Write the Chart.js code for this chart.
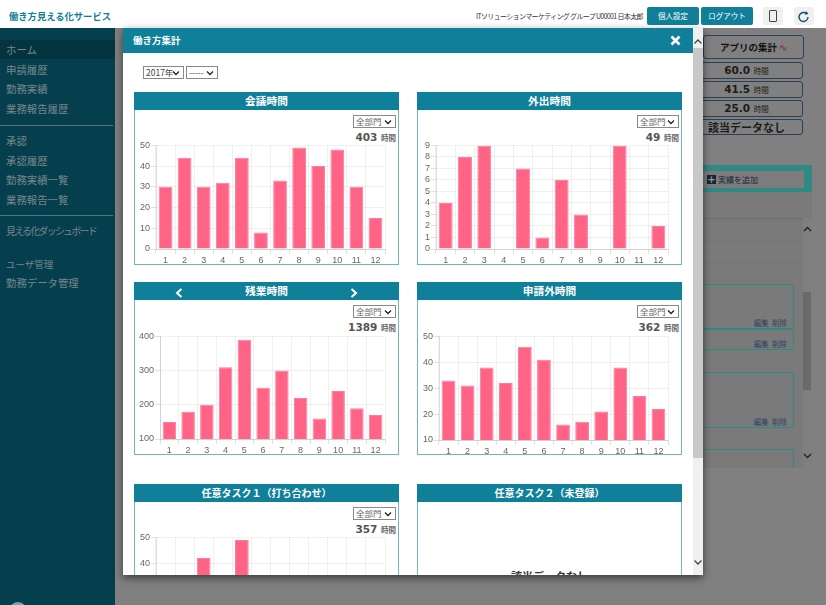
<!DOCTYPE html>
<html lang="ja">
<head>
<meta charset="utf-8">
<title>働き方集計</title>
<script src="https://cdn.jsdelivr.net/npm/chart.js@4"></script>
<style>
  html, body { margin: 0; padding: 0; width: 826px; height: 605px; overflow: hidden; background: #808080; font-family: "Noto Sans CJK JP", sans-serif; }
  .a { position: absolute; white-space: nowrap; }
  .navi { position: absolute; left: 6px; font-size: 10.4px; line-height: 14px; color: #76868b; white-space: nowrap; }
  .btn { position: absolute; top: 7px; width: 52px; height: 18px; background: #107f99; border-radius: 2px; color: #fff; font-size: 7.5px; line-height: 18px; text-align: center; }
  .ibtn { position: absolute; top: 7px; width: 20px; height: 18px; background: #f0f0f0; border-radius: 2px; }
  .rowbox { position: absolute; left: 690px; width: 113px; border: 1px solid #2b3f55; border-radius: 3px; box-sizing: border-box; color: #1c1c1c; text-align: center; font: bold 10.500px "DejaVu Sans", sans-serif; }
  .rowbox small { font: 7.500px "Noto Sans CJK JP", sans-serif; }
  .entry { position: absolute; left: 690px; width: 104px; border: 1px solid #2f8a84; border-radius: 2px; box-sizing: border-box; }
  .entry span { position: absolute; right: 6px; bottom: 0; font-size: 7.5px; line-height: 11px; color: #2c4560; }
  #modal { position: absolute; left: 123px; top: 28px; width: 580px; height: 547px; background: #fff; overflow: hidden; box-shadow: 0 3px 8px rgba(0,0,0,.55); }
  #inner { position: absolute; left: -123px; top: -28px; width: 826px; height: 800px; }
  #mhead { position: absolute; left: 123px; top: 28px; width: 570px; height: 25px; background: #107f99; color: #fff; font-size: 9.5px; font-weight: bold; line-height: 25px; text-indent: 10px; }
  .panel { position: absolute; width: 265px; height: 173px; border: 1px solid #6fb6c4; box-sizing: border-box; background: #fff; }
  .phead { position: absolute; left: -1px; top: -1px; width: 265px; height: 18px; background: #107f99; color: #fff; font-size: 10.7px; font-weight: bold; line-height: 18px; text-align: center; white-space: nowrap; }
  select { position: absolute; appearance: none; -webkit-appearance: none; font: 8.5px/11px "Noto Sans CJK JP", sans-serif; height: 13px; padding: 0 0 0 2px; border: 1px solid #888; box-sizing: border-box; color: #666; border-radius: 0; background: #fff url("data:image/svg+xml,%3Csvg xmlns='http://www.w3.org/2000/svg' width='8' height='6'%3E%3Cpath d='M1 1.500l3 3 3-3' fill='none' stroke='%23222' stroke-width='1.300'/%3E%3C/svg%3E") no-repeat right 3px center; }
  .total { position: absolute; width: 262px; text-align: right; color: #555; font: bold 10.5px "DejaVu Sans", sans-serif; line-height: 14px; }
  .total small { font: bold 7.5px "Noto Sans CJK JP", sans-serif; color: #666; }
  canvas { position: absolute; }
</style>
</head>
<body>
<!-- top bar -->
<div class="a" style="left:0;top:0;width:826px;height:28px;background:#fff"></div>
<div class="a" style="left:9px;top:8px;font-size:9.3px;font-weight:bold;line-height:16px;color:#107f99">働き方見える化サービス</div>
<div class="a" style="left:476px;top:10px;font-size:7px;letter-spacing:-0.65px;line-height:12px;color:#333">ITソリューションマーケティング グループ U00001 日本太郎</div>
<div class="btn" style="left:647px">個人設定</div>
<div class="btn" style="left:701px">ログアウト</div>
<div class="ibtn" style="left:763px"><div class="a" style="left:6px;top:3px;width:6px;height:10px;border:1px solid #444;border-radius:1px"></div></div>
<div class="ibtn" style="left:794px">
  <svg width="20" height="18" viewBox="0 0 20 18"><path d="M14 9a4.5 4.5 0 1 1-1.5-3.4" fill="none" stroke="#0d5566" stroke-width="1.4"/><path d="M12 3l2.5 3-3.4.8z" fill="#0d5566"/></svg>
</div>

<!-- sidebar -->
<div class="a" style="left:0;top:28px;width:115px;height:577px;background:#053f4d"></div>
<div class="a" style="left:0;top:40px;width:115px;height:19px;background:#04343f"></div>
<div class="navi" style="top:43px">ホーム</div>
<div class="navi" style="top:63px">申請履歴</div>
<div class="navi" style="top:82px">勤務実績</div>
<div class="navi" style="top:102px">業務報告履歴</div>
<div class="a" style="left:0;top:125px;width:113px;height:1px;background:#55747c"></div>
<div class="navi" style="top:134px">承認</div>
<div class="navi" style="top:154px">承認履歴</div>
<div class="navi" style="top:173px">勤務実績一覧</div>
<div class="navi" style="top:193px">業務報告一覧</div>
<div class="a" style="left:0;top:215px;width:113px;height:1px;background:#55747c"></div>
<div class="navi" style="top:224px;font-size:10px;letter-spacing:-1.8px">見える化ダッシュボード</div>
<div class="navi" style="top:257px;font-size:9.500px">ユーザ管理</div>
<div class="navi" style="top:276px">勤務データ管理</div>
<div class="a" style="left:9px;top:602px;width:18px;height:18px;border-radius:50%;background:#8aa0a6"></div>

<!-- dimmed page behind the dialog -->
<div class="a" style="left:703px;top:35px;width:101px;height:24px;border:1px solid #2b3f55;border-radius:3px;box-sizing:border-box;font-size:9.5px;font-weight:bold;line-height:22px;text-align:center;color:#111">アプリの集計 <span style="color:#8a3a4a">∿</span></div>
<div class="rowbox" style="top:62px;height:17px;line-height:15px">60.0 <small>時間</small></div>
<div class="rowbox" style="top:81px;height:17px;line-height:15px">41.5 <small>時間</small></div>
<div class="rowbox" style="top:100px;height:17px;line-height:15px">25.0 <small>時間</small></div>
<div class="rowbox" style="top:119px;height:16px;line-height:14px;font-size:11px;font-family:'Noto Sans CJK JP'">該当データなし</div>
<div class="a" style="left:690px;top:165px;width:122px;height:27px;background:#2f8a84"></div>
<div class="a" style="left:690px;top:171px;width:114px;height:17px;background:#7c7c7c"></div>
<div class="a" style="left:707px;top:175px;width:9px;height:9px;background:#12263a;color:#999;font:bold 10px/9px 'DejaVu Sans';text-align:center">+</div>
<div class="a" style="left:718px;top:174px;font-size:8px;line-height:12px;color:#15263a">実績を追加</div>
<div class="a" style="left:690px;top:192px;width:122px;height:276px;background:#7a7a7a"></div>
<div class="a" style="left:690px;top:218px;width:122px;height:1px;background:#6e6e6e"></div>
<div class="a" style="left:690px;top:241px;width:113px;height:1px;background:#757575"></div>
<div class="a" style="left:690px;top:262px;width:113px;height:1px;background:#757575"></div>
<div class="a" style="left:803px;top:218px;width:9px;height:250px;background:#7f7f7f"></div>
<div class="a" style="left:803px;top:292px;width:8px;height:98px;background:#6a6a6a"></div>
<svg class="a" style="left:803px;top:226px" width="9" height="6"><path d="M1 5l3.5-3.5L8 5" fill="none" stroke="#222" stroke-width="1.3"/></svg>
<svg class="a" style="left:803px;top:453px" width="9" height="6"><path d="M1 1l3.5 3.5L8 1" fill="none" stroke="#222" stroke-width="1.3"/></svg>
<div class="entry" style="top:284px;height:45px"><span>編集&nbsp;&nbsp;削除</span></div>
<div class="entry" style="top:329px;height:21px"><span>編集&nbsp;&nbsp;削除</span></div>
<div class="entry" style="top:372px;height:56px"><span>編集&nbsp;&nbsp;削除</span></div>
<div class="entry" style="top:449px;height:20px;border-bottom:0"></div>

<!-- dialog -->
<div id="modal"><div id="inner">
  <div id="mhead">働き方集計</div>
  <svg class="a" style="left:670px;top:35px" width="11" height="11"><path d="M1.5 1.5l8 8M9.5 1.5l-8 8" stroke="#fff" stroke-width="2.6"/></svg>
  <div class="a" style="left:693px;top:28px;width:10px;height:547px;background:#f0f0f0"></div>
  <div class="a" style="left:693px;top:48px;width:10px;height:410px;background:#c8c8c8"></div>
  <svg class="a" style="left:693px;top:38px" width="10" height="7"><path d="M1.5 5.5l3.5-3.5 3.5 3.5" fill="none" stroke="#444" stroke-width="1.3"/></svg>
  <svg class="a" style="left:693px;top:559px" width="10" height="7"><path d="M1.5 1.5l3.5 3.5 3.5-3.5" fill="none" stroke="#444" stroke-width="1.3"/></svg>

  <select style="left:143px;top:66px;width:41px;color:#444"><option>2017年</option></select>
  <select style="left:186px;top:66px;width:32px;color:#444"><option>-----</option></select>

  <div class="panel" style="left:134px;top:92px"><div class="phead">会議時間</div></div>
  <select style="left:353px;top:115px;width:43px"><option>全部門</option></select>
  <div class="total" style="left:134px;top:130px">403 <small>時間</small></div>
  <canvas id="chartMeeting"></canvas>

  <div class="panel" style="left:417px;top:92px"><div class="phead">外出時間</div></div>
  <select style="left:637px;top:115px;width:42px"><option>全部門</option></select>
  <div class="total" style="left:417px;top:130px">49 <small>時間</small></div>
  <canvas id="chartOuting"></canvas>

  <div class="panel" style="left:134px;top:282px"><div class="phead">残業時間</div></div>
  <svg class="a" style="left:175px;top:288px" width="8" height="10"><path d="M6.5 1L2 5l4.500 4" fill="none" stroke="#fff" stroke-width="2"/></svg>
  <svg class="a" style="left:350px;top:288px" width="8" height="10"><path d="M1.500 1L6 5 1.500 9" fill="none" stroke="#fff" stroke-width="2"/></svg>
  <select style="left:353px;top:305px;width:43px"><option>全部門</option></select>
  <div class="total" style="left:134px;top:320px">1389 <small>時間</small></div>
  <canvas id="chartOvertime"></canvas>

  <div class="panel" style="left:417px;top:282px"><div class="phead">申請外時間</div></div>
  <select style="left:637px;top:305px;width:42px"><option>全部門</option></select>
  <div class="total" style="left:417px;top:320px">362 <small>時間</small></div>
  <canvas id="chartUnfiled"></canvas>

  <div class="panel" style="left:134px;top:484px"><div class="phead" style="font-size:10px">任意タスク１（打ち合わせ）</div></div>
  <select style="left:353px;top:507px;width:43px"><option>全部門</option></select>
  <div class="total" style="left:134px;top:522px">357 <small>時間</small></div>
  <canvas id="chartTask1"></canvas>

  <div class="panel" style="left:417px;top:484px"><div class="phead" style="font-size:10px">任意タスク２（未登録）</div></div>
  <div class="a" style="left:417px;top:568px;width:265px;text-align:center;font-size:11px;font-weight:bold;line-height:16px;color:#333">該当データなし</div>
</div></div>

<script>
const months = ["1", "2", "3", "4", "5", "6", "7", "8", "9", "10", "11", "12"];

const meetingHours = [30, 44, 30, 32, 44, 8, 33, 49, 40, 48, 30, 15];
const outingHours = [4, 8, 9, 0, 7, 1, 6, 3, 0, 9, 0, 2];
const overtimeHours = [150, 180, 200, 310, 390, 250, 300, 220, 160, 240, 190, 170];
const unfiledHours = [33, 31, 38, 32, 46, 41, 16, 17, 21, 38, 27, 22];
// only months 3 and 5 show above the fold, the rest are guesses under 40 adding up to 357
const task1Hours = [30, 25, 42, 28, 49, 33, 20, 35, 30, 25, 22, 18];

function createBarChart(id, values, yMin, yMax, yStep, left, right, top, bottom) {
  const canvas = document.getElementById(id);
  const axisWidth = 22, axisHeight = 18, padTop = 6, padRight = 8;
  canvas.width = right - left + axisWidth + padRight;
  canvas.height = bottom - top + axisHeight + padTop;
  canvas.style.left = left - axisWidth + "px";
  canvas.style.top = top - padTop + "px";

  return new Chart(canvas, {
    type: "bar",
    data: {
      labels: months,
      datasets: [
        {
          data: values,
          backgroundColor: "#ff6385",
          borderColor: "#ff7d98",
          borderWidth: 1,
        },
      ],
    },
    options: {
      responsive: false,
      animation: false,
      layout: { padding: { top: padTop, right: padRight, left: 0, bottom: 0 } },
      plugins: { legend: { display: false }, title: { display: false }, tooltip: { enabled: false } },
      scales: {
        x: {
          afterFit: (scale) => { scale.height = axisHeight; },
          grid: { color: "rgba(0,0,0,0.06)", tickLength: 5, tickColor: "rgba(0,0,0,0.12)" },
          border: { color: "rgba(0,0,0,0.13)" },
          ticks: { color: "#666", padding: 1, maxRotation: 0, font: { family: "Liberation Sans", size: 9 } },
        },
        y: {
          min: yMin,
          max: yMax,
          afterFit: (scale) => { scale.width = axisWidth; },
          grid: { color: "rgba(0,0,0,0.06)", tickLength: 5, tickColor: "rgba(0,0,0,0.12)" },
          border: { color: "rgba(0,0,0,0.13)" },
          ticks: { stepSize: yStep, autoSkip: false, color: "#666", padding: 1, font: { family: "Liberation Sans", size: 9 } },
        },
      },
    },
  });
}

createBarChart("chartMeeting", meetingHours, 0, 50, 10, 156, 385, 145, 249);
createBarChart("chartOuting", outingHours, 0, 9, 1, 436, 668, 145, 249);
createBarChart("chartOvertime", overtimeHours, 100, 400, 100, 160, 385, 336, 439);
createBarChart("chartUnfiled", unfiledHours, 10, 50, 10, 439, 668, 336, 440);
createBarChart("chartTask1", task1Hours, 10, 50, 10, 156, 385, 537, 641);
</script>
</body>
</html>
